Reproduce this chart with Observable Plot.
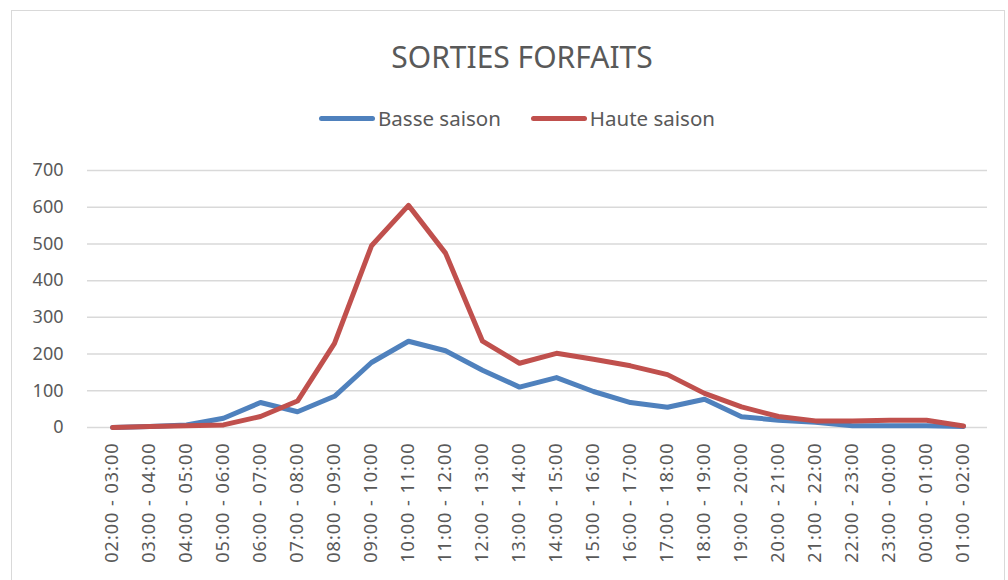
<!DOCTYPE html>
<html>
<head>
<meta charset="utf-8">
<script src="https://cdn.jsdelivr.net/npm/d3@7"></script>
<script src="https://cdn.jsdelivr.net/npm/@observablehq/plot@0.6"></script>
<style>
  html, body { margin: 0; padding: 0; background: #fff; width: 1008px; height: 580px; overflow: hidden; }
  body { position: relative; font-family: "Noto Sans", sans-serif; color: #595959; }
  #frame { position: absolute; left: 11px; top: 10px; width: 994px; height: 620px; border: 1.5px solid #d9d9d9; box-sizing: border-box; }
  #title { position: absolute; left: 0; width: 1044px; top: 37px; text-align: center; font-size: 30px; line-height: 40px; color: #595959; }
  #legend { position: absolute; left: 0; width: 1034px; top: 104px; display: flex; justify-content: center; align-items: center; font-size: 20.5px; line-height: 28px; color: #595959; }
  .item { display: flex; align-items: center; margin: 0 15px; }
  .swatch { width: 56px; height: 5px; border-radius: 3px; margin-right: 3px; }
  #chart { position: absolute; left: 0; top: 150px; }
  #chart .xax text { letter-spacing: 1px; }
</style>
</head>
<body>
<div id="frame"></div>
<div id="title">SORTIES FORFAITS</div>
<div id="legend"></div>
<div id="chart"></div>
<script>
const categories = [
  "02:00 - 03:00","03:00 - 04:00","04:00 - 05:00","05:00 - 06:00","06:00 - 07:00","07:00 - 08:00",
  "08:00 - 09:00","09:00 - 10:00","10:00 - 11:00","11:00 - 12:00","12:00 - 13:00","13:00 - 14:00",
  "14:00 - 15:00","15:00 - 16:00","16:00 - 17:00","17:00 - 18:00","18:00 - 19:00","19:00 - 20:00",
  "20:00 - 21:00","21:00 - 22:00","22:00 - 23:00","23:00 - 00:00","00:00 - 01:00","01:00 - 02:00"
];
const seriesNames = ["Basse saison", "Haute saison"];
const basseSaison = [0, 3, 7, 25, 68, 43, 85, 177, 235, 209, 156, 110, 136, 98, 68, 55, 77, 29, 20, 14, 5, 5, 5, 3];
const hauteSaison = [0, 3, 5, 7, 30, 72, 229, 495, 605, 475, 235, 175, 202, 186, 168, 144, 93, 56, 30, 18, 18, 20, 20, 4];
const yTicks = [0, 100, 200, 300, 400, 500, 600, 700];
const colors = ["#4f81bd", "#c0504d"];

const data = [];
categories.forEach((c, i) => {
  data.push({cat: c, series: seriesNames[0], value: basseSaison[i]});
  data.push({cat: c, series: seriesNames[1], value: hauteSaison[i]});
});

const legend = document.getElementById("legend");
seriesNames.forEach((s, i) => {
  const it = document.createElement("div");
  it.className = "item";
  it.innerHTML = `<span class="swatch" style="background:${colors[i]}"></span><span>${s}</span>`;
  legend.appendChild(it);
});

const chart = Plot.plot({
  width: 1008,
  height: 430,
  marginLeft: 87,
  marginRight: 21,
  marginTop: 20,
  marginBottom: 153,
  style: {fontFamily: "Noto Sans", fontSize: "18px", color: "#595959", background: "transparent"},
  x: {type: "point", domain: categories, padding: 0.5, label: null},
  y: {domain: [0, 700], ticks: yTicks, label: null},
  color: {domain: seriesNames, range: colors},
  marks: [
    Plot.gridY(yTicks, {stroke: "#d9d9d9", strokeOpacity: 1, strokeWidth: 1.5}),
    Plot.axisY(yTicks, {tickSize: 0, tickPadding: 24, label: null, fontSize: 18, fill: "#595959"}),
    Plot.axisX({tickSize: 0, tickPadding: 15, tickRotate: -90, label: null, fontSize: 18, fill: "#595959", className: "xax"}),
    Plot.line(data, {x: "cat", y: "value", z: "series", stroke: "series", strokeWidth: 5, strokeLinejoin: "round", strokeLinecap: "round"})
  ]
});
document.getElementById("chart").appendChild(chart);
</script>
</body>
</html>
